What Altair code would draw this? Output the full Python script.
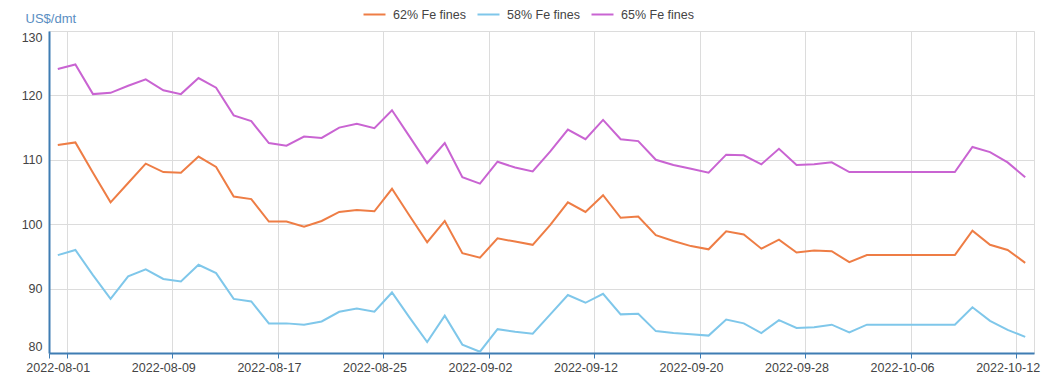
import altair as alt
import pandas as pd

dates = [
    "2022-08-01", "2022-08-02", "2022-08-03", "2022-08-04", "2022-08-05",
    "2022-08-08", "2022-08-09", "2022-08-10", "2022-08-11", "2022-08-12",
    "2022-08-15", "2022-08-16", "2022-08-17", "2022-08-18", "2022-08-19",
    "2022-08-22", "2022-08-23", "2022-08-24", "2022-08-25", "2022-08-26",
    "2022-08-29", "2022-08-30", "2022-08-31", "2022-09-01", "2022-09-02",
    "2022-09-05", "2022-09-06", "2022-09-07", "2022-09-08", "2022-09-09",
    "2022-09-12", "2022-09-13", "2022-09-14", "2022-09-15", "2022-09-16",
    "2022-09-19", "2022-09-20", "2022-09-21", "2022-09-22", "2022-09-23",
    "2022-09-26", "2022-09-27", "2022-09-28", "2022-09-29", "2022-09-30",
    "2022-10-03", "2022-10-04", "2022-10-05", "2022-10-06", "2022-10-07",
    "2022-10-08", "2022-10-09", "2022-10-10", "2022-10-11", "2022-10-12",
    "2022-10-13",
]

fe62 = [
    112.3, 112.7, 108.0, 103.4, 106.4, 109.4, 108.1, 108.0, 110.5, 108.9,
    104.3, 103.9, 100.4, 100.4, 99.6, 100.5, 101.9, 102.2, 102.0, 105.5,
    101.3, 97.2, 100.5, 95.5, 94.8, 97.8, 97.3, 96.8, 99.9, 103.4,
    101.9, 104.5, 101.0, 101.2, 98.3, 97.4, 96.6, 96.1, 98.9, 98.4,
    96.2, 97.6, 95.6, 95.9, 95.8, 94.1, 95.2, 95.2, 95.2, 95.2,
    95.2, 95.2, 99.0, 96.8, 96.0, 94.0,
]

fe58 = [
    95.2, 96.0, 92.1, 88.4, 91.9, 93.0, 91.5, 91.1, 93.7, 92.4,
    88.4, 88.0, 84.6, 84.6, 84.4, 84.9, 86.4, 86.9, 86.4, 89.4,
    85.5, 81.7, 85.8, 81.3, 80.2, 83.7, 83.3, 83.0, 86.0, 89.0,
    87.8, 89.2, 86.0, 86.1, 83.4, 83.1, 82.9, 82.7, 85.2, 84.6,
    83.1, 85.1, 83.9, 84.0, 84.4, 83.2, 84.4, 84.4, 84.4, 84.4,
    84.4, 84.4, 87.1, 85.0, 83.6, 82.5,
]

fe65 = [
    124.1, 124.8, 120.2, 120.4, 121.5, 122.5, 120.8, 120.2, 122.7, 121.2,
    116.9, 116.0, 112.6, 112.2, 113.6, 113.4, 115.0, 115.6, 114.9, 117.7,
    113.6, 109.5, 112.6, 107.3, 106.3, 109.7, 108.8, 108.2, 111.3, 114.7,
    113.2, 116.2, 113.2, 112.9, 110.0, 109.2, 108.6, 108.0, 110.8, 110.7,
    109.3, 111.7, 109.2, 109.3, 109.6, 108.1, 108.1, 108.1, 108.1, 108.1,
    108.1, 108.1, 112.0, 111.2, 109.6, 107.3,
]

series_names = ["62% Fe fines", "58% Fe fines", "65% Fe fines"]
series_colors = ["#EE7D45", "#7FC7EA", "#C964D2"]
tick_labels = [
    "2022-08-01", "2022-08-09", "2022-08-17", "2022-08-25", "2022-09-02",
    "2022-09-12", "2022-09-20", "2022-09-28", "2022-10-06", "2022-10-12",
]
y_ticks = [80, 90, 100, 110, 120, 130]

rows = []
for name, vals in zip(series_names, [fe62, fe58, fe65]):
    for d, v in zip(dates, vals):
        rows.append({"date": d, "value": v, "series": name})
df = pd.DataFrame(rows)

AXIS_BLUE = "#3F7DB3"
GRID = "#DCDCDC"
FONT = "Liberation Sans"

chart = (
    alt.Chart(df)
    .mark_line(strokeWidth=2)
    .encode(
        x=alt.X(
            "date:O",
            sort=dates,
            scale=alt.Scale(type="band", paddingInner=0, paddingOuter=0),
            axis=alt.Axis(
                values=tick_labels,
                tickBand="extent",
                grid=True,
                gridColor=GRID,
                gridWidth=1,
                domainColor=AXIS_BLUE,
                domainWidth=2,
                tickColor=AXIS_BLUE,
                tickSize=5,
                tickWidth=1,
                labelAngle=0,
                labelFontSize=12.5,
                labelFont=FONT,
                labelColor="#444444",
                labelPadding=3,
                title=None,
            ),
        ),
        y=alt.Y(
            "value:Q",
            scale=alt.Scale(domain=[80, 130], nice=False, zero=False),
            axis=alt.Axis(
                values=y_ticks,
                grid=True,
                gridColor=GRID,
                gridWidth=1,
                domainColor=AXIS_BLUE,
                domainWidth=2,
                ticks=False,
                labelFlush=True,
                labelPadding=7,
                labelFontSize=12.5,
                labelFont=FONT,
                labelColor="#444444",
                title="US$/dmt",
                titleAngle=0,
                titleAlign="left",
                titleBaseline="middle",
                titleX=-24,
                titleY=-13,
                titleColor="#5A8EC2",
                titleFontSize=13,
                titleFont=FONT,
                titleFontWeight="normal",
            ),
        ),
        color=alt.Color(
            "series:N",
            scale=alt.Scale(domain=series_names, range=series_colors),
            legend=alt.Legend(
                title=None,
                orient="none",
                legendX=319,
                legendY=-23,
                direction="horizontal",
                symbolType="M-2,0H2",
                symbolSize=121,
                symbolStrokeWidth=2,
                labelOffset=12,
                columnPadding=7,
                labelFontSize=12.5,
                labelFont=FONT,
                labelColor="#444444",
                padding=0,
            ),
        ),
        order=alt.Order("series:N"),
    )
    .properties(
        width=985,
        height=322,
        autosize=alt.AutoSizeParams(type="none"),
        padding={"left": 41, "top": 23, "right": 12, "bottom": 24},
    )
    .configure_view(stroke=GRID, strokeWidth=1)
)

chart.save("out.html", embed_options={"renderer": "svg", "actions": False})
